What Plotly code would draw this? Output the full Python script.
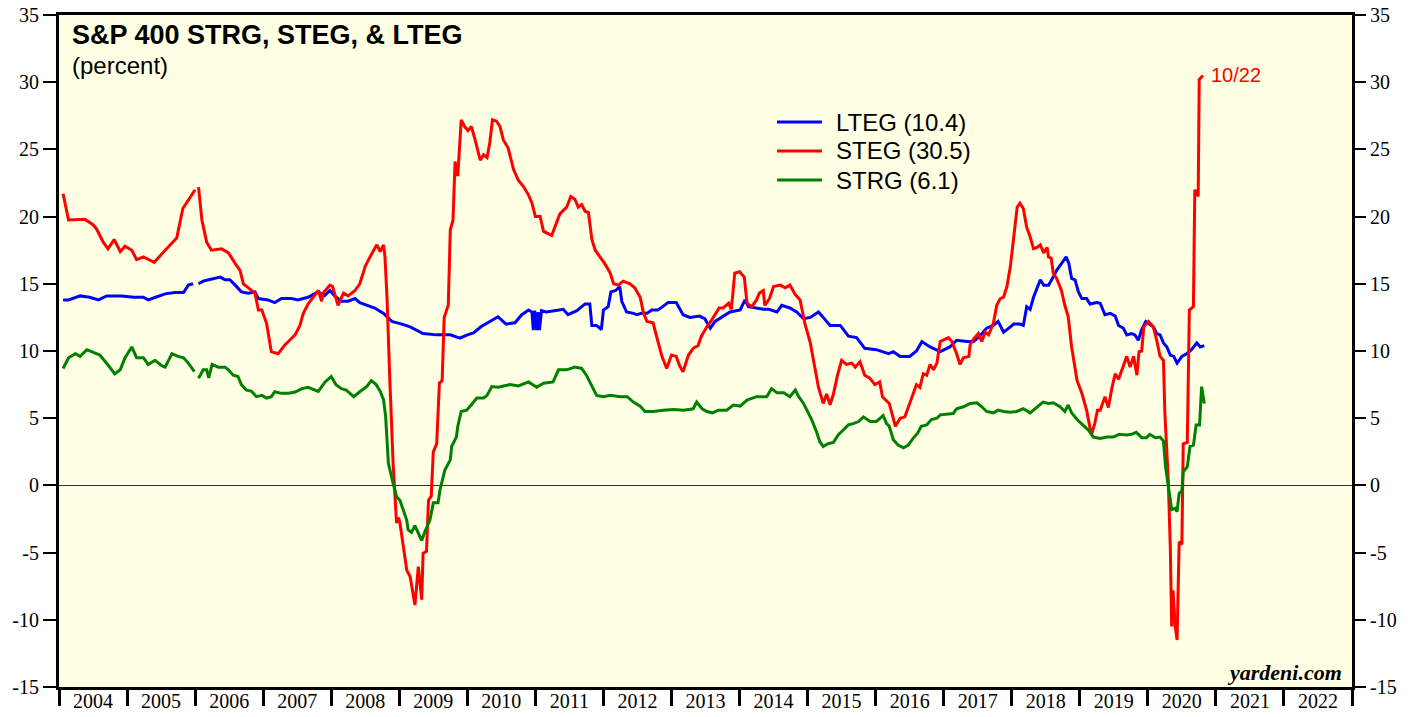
import plotly.graph_objects as go

# ---------------- data (decimal years) ----------------
steg_x = [2004.06, 2004.14, 2004.38, 2004.50, 2004.55, 2004.65, 2004.72, 2004.81, 2004.90, 2004.97,
          2005.07, 2005.14, 2005.24, 2005.40, 2005.56, 2005.73, 2005.82, 2006.00, 2006.02,
          2006.05, 2006.10, 2006.17, 2006.24, 2006.39, 2006.49, 2006.59, 2006.66, 2006.71, 2006.80,
          2006.88, 2006.93, 2006.98, 2007.05, 2007.12, 2007.22, 2007.32, 2007.39, 2007.47, 2007.54,
          2007.59, 2007.66, 2007.74, 2007.81, 2007.86, 2007.88, 2007.98, 2008.02, 2008.10, 2008.18,
          2008.25, 2008.35, 2008.42, 2008.50, 2008.57, 2008.62, 2008.67, 2008.72, 2008.77, 2008.79,
          2008.82, 2008.86, 2008.91, 2008.96, 2008.99, 2009.01, 2009.06, 2009.11, 2009.16, 2009.23,
          2009.28, 2009.33, 2009.35, 2009.40, 2009.43, 2009.47, 2009.50, 2009.55, 2009.59, 2009.63,
          2009.66, 2009.72, 2009.75, 2009.79, 2009.82, 2009.86, 2009.91, 2009.96, 2010.01, 2010.06,
          2010.11, 2010.19, 2010.24, 2010.29, 2010.33, 2010.37, 2010.43, 2010.48, 2010.53, 2010.60,
          2010.68, 2010.75, 2010.83, 2010.90, 2010.95, 2011.00, 2011.07, 2011.12, 2011.24, 2011.31,
          2011.36, 2011.46, 2011.52, 2011.58, 2011.63, 2011.68, 2011.73, 2011.78, 2011.83, 2011.88,
          2011.95, 2012.02, 2012.10, 2012.15, 2012.22, 2012.29, 2012.39, 2012.46, 2012.54, 2012.59,
          2012.64, 2012.73, 2012.78, 2012.86, 2012.93, 2013.00, 2013.07, 2013.12, 2013.17, 2013.25,
          2013.32, 2013.39, 2013.44, 2013.52, 2013.59, 2013.66, 2013.70, 2013.76, 2013.84, 2013.88,
          2013.93, 2014.00, 2014.07, 2014.11, 2014.18, 2014.25, 2014.29, 2014.35, 2014.37, 2014.44,
          2014.50, 2014.60, 2014.67, 2014.74, 2014.82, 2014.89, 2014.96, 2015.04, 2015.11, 2015.16,
          2015.23, 2015.28, 2015.33, 2015.38, 2015.44, 2015.50, 2015.57, 2015.65, 2015.70, 2015.77,
          2015.84, 2015.91, 2015.99, 2016.06, 2016.10, 2016.17, 2016.20, 2016.29, 2016.36, 2016.43,
          2016.50, 2016.55, 2016.60, 2016.65, 2016.70, 2016.75, 2016.80, 2016.85, 2016.90, 2016.95,
          2017.02, 2017.07, 2017.12, 2017.19, 2017.24, 2017.29, 2017.37, 2017.39, 2017.44, 2017.51,
          2017.56, 2017.61, 2017.66, 2017.73, 2017.78, 2017.83, 2017.88, 2017.93, 2017.98, 2018.03,
          2018.08, 2018.12, 2018.17, 2018.22, 2018.27, 2018.32, 2018.37, 2018.42, 2018.47, 2018.52,
          2018.54, 2018.58, 2018.61, 2018.66, 2018.73, 2018.78, 2018.83, 2018.88, 2018.96, 2019.03,
          2019.10, 2019.17, 2019.22, 2019.26, 2019.30, 2019.37, 2019.42, 2019.47, 2019.52, 2019.57,
          2019.62, 2019.69, 2019.74, 2019.79, 2019.84, 2019.87, 2019.91, 2019.94, 2020.01, 2020.08,
          2020.13, 2020.18, 2020.23, 2020.25, 2020.30, 2020.33, 2020.35, 2020.37, 2020.40, 2020.43,
          2020.46, 2020.50, 2020.52, 2020.58, 2020.61, 2020.67, 2020.69, 2020.74, 2020.755, 2020.81]
steg_y = [21.7, 19.75, 19.8, 19.4, 19.1, 18.1, 17.6, 18.3, 17.4, 17.8,
          17.5, 16.8, 17.0, 16.6, 17.5, 18.4, 20.6, 22.0, None,
          22.2, 19.75, 18.1, 17.5, 17.6, 17.3, 16.5, 16.0, 15.0, 14.6,
          14.3, 13.05, 13.05, 12.06, 9.95, 9.8, 10.45, 10.8, 11.2, 11.9,
          12.8, 13.5, 14.0, 14.5, 13.7, 14.3, 14.9, 14.8, 13.4, 14.3,
          14.1, 14.5, 15.0, 16.3, 17.0, 17.5, 17.9, 17.4, 17.9, 17.0,
          14.0, 8.0, 1.6, -2.8, -2.4, -2.8, -4.6, -6.3, -6.8, -8.9,
          -6.05, -8.5, -5.05, -4.9, -1.1, -0.8, 2.5, 3.1, 7.6, 7.8,
          12.5, 13.4, 19.0, 19.75, 24.1, 23.0, 27.2, 26.7, 26.4, 26.7,
          25.8, 24.2, 24.6, 24.4, 25.5, 27.2, 27.1, 26.7, 25.7, 25.1,
          23.5, 22.7, 22.2, 21.6, 21.0, 20.0, 20.0, 18.9, 18.6, 19.5,
          20.2, 20.7, 21.5, 21.3, 20.7, 20.9, 20.4, 20.3, 18.3, 17.5,
          17.0, 16.5, 15.8, 15.0, 14.9, 15.2, 15.0, 14.7, 14.0, 12.8,
          12.2, 12.1, 11.1, 9.6, 8.7, 9.7, 9.6, 8.9, 8.46, 9.7,
          10.2, 10.4, 11.1, 11.8, 12.3, 12.9, 13.2, 13.2, 13.55, 13.1,
          15.8, 15.9, 15.5, 13.55, 13.3, 13.8, 14.3, 14.5, 13.4, 13.9,
          14.8, 14.9, 14.7, 14.9, 14.2, 13.8, 12.06, 10.6, 8.8, 7.3,
          6.1, 6.8, 6.0, 6.8, 8.2, 9.3, 9.0, 9.1, 8.8, 9.2,
          8.2, 8.0, 7.5, 7.7, 6.6, 6.2, 6.1, 4.4, 5.0, 5.1,
          6.1, 6.7, 7.5, 7.3, 8.3, 8.2, 9.0, 8.6, 9.1, 10.7,
          10.9, 11.0, 10.7, 9.8, 9.0, 9.5, 9.6, 10.5, 10.9, 11.3,
          10.7, 11.4, 11.2, 12.06, 13.4, 13.9, 14.0, 14.8, 16.3, 18.3,
          20.7, 21.0, 20.6, 19.2, 18.5, 17.6, 17.7, 17.9, 17.3, 17.7,
          17.0, 16.9, 15.8, 15.4, 14.5, 13.4, 12.55, 10.3, 7.8, 6.85,
          5.6, 3.75, 4.6, 5.6, 5.6, 6.6, 5.8, 7.2, 8.3, 7.9,
          8.6, 9.6, 8.8, 9.6, 8.2, 9.95, 10.0, 11.8, 12.2, 11.8,
          10.8, 9.6, 9.3, 5.4, 0.4, -4.6, -10.5, -7.8, -10.4, -11.5,
          -4.2, -4.4, 3.1, 3.2, 13.05, 13.3, 22.0, 21.5, 30.2, 30.5]

lteg_x = [2004.06, 2004.14, 2004.31, 2004.45, 2004.58, 2004.70, 2004.92, 2005.10, 2005.24, 2005.31,
          2005.42, 2005.56, 2005.70, 2005.83, 2005.90, 2005.97, 2006.01,
          2006.05, 2006.12, 2006.20, 2006.29, 2006.37, 2006.44, 2006.51, 2006.59, 2006.68, 2006.78,
          2006.88, 2006.93, 2007.07, 2007.17, 2007.27, 2007.42, 2007.51, 2007.66, 2007.81, 2007.90,
          2007.98, 2008.05, 2008.15, 2008.25, 2008.35, 2008.42, 2008.52, 2008.64, 2008.77, 2008.89,
          2009.04, 2009.16, 2009.35, 2009.55, 2009.75, 2009.89, 2010.00, 2010.09, 2010.20, 2010.33,
          2010.45, 2010.57, 2010.70, 2010.80, 2010.90, 2010.95, 2010.97, 2010.99, 2011.02, 2011.04,
          2011.06, 2011.09, 2011.16, 2011.28, 2011.41, 2011.48, 2011.61, 2011.73, 2011.80, 2011.83,
          2011.90, 2011.97, 2012.00, 2012.07, 2012.11, 2012.18, 2012.24, 2012.27, 2012.34, 2012.44,
          2012.49, 2012.56, 2012.64, 2012.71, 2012.80, 2012.87, 2012.95, 2013.07, 2013.17, 2013.27,
          2013.41, 2013.49, 2013.57, 2013.64, 2013.76, 2013.86, 2014.01, 2014.08, 2014.13, 2014.25,
          2014.35, 2014.43, 2014.55, 2014.62, 2014.74, 2014.84, 2014.94, 2015.04, 2015.16, 2015.23,
          2015.33, 2015.48, 2015.60, 2015.72, 2015.84, 2016.01, 2016.19, 2016.26, 2016.36, 2016.50,
          2016.60, 2016.68, 2016.80, 2016.95, 2017.09, 2017.19, 2017.34, 2017.44, 2017.53, 2017.63,
          2017.73, 2017.80, 2017.88, 2017.98, 2018.03, 2018.12, 2018.17, 2018.22, 2018.27, 2018.32,
          2018.37, 2018.42, 2018.47, 2018.54, 2018.61, 2018.66, 2018.73, 2018.80, 2018.84, 2018.88,
          2018.93, 2018.98, 2019.03, 2019.10, 2019.15, 2019.25, 2019.30, 2019.37, 2019.45, 2019.52,
          2019.57, 2019.64, 2019.69, 2019.76, 2019.81, 2019.86, 2019.91, 2019.97, 2020.08, 2020.13,
          2020.18, 2020.23, 2020.28, 2020.33, 2020.38, 2020.43, 2020.50, 2020.57, 2020.64, 2020.72,
          2020.77, 2020.83]
lteg_y = [13.8, 13.8, 14.1, 14.0, 13.8, 14.1, 14.1, 14.0, 14.0, 13.8,
          14.0, 14.25, 14.35, 14.35, 14.9, 15.0, None,
          15.0, 15.2, 15.3, 15.4, 15.5, 15.3, 15.3, 14.9, 14.4, 14.3,
          14.4, 13.9, 13.8, 13.6, 13.9, 13.9, 13.8, 14.0, 14.4, 14.1,
          14.5, 14.1, 13.7, 13.7, 13.9, 13.6, 13.4, 13.2, 12.8, 12.2,
          12.0, 11.8, 11.3, 11.2, 11.2, 10.95, 11.2, 11.35, 11.8, 12.2,
          12.55, 12.0, 12.1, 12.7, 13.05, 12.9, 11.56, 13.0, 11.56, 12.9,
          11.56, 13.0, 12.9, 13.0, 13.1, 12.7, 13.0, 13.5, 13.5, 11.9,
          11.9, 11.6, 13.05, 13.3, 14.4, 14.5, 14.8, 13.7, 12.9, 12.8,
          12.7, 12.8, 12.8, 13.05, 13.05, 13.3, 13.6, 13.6, 12.7, 12.5,
          12.6, 12.4, 11.7, 12.2, 12.55, 12.9, 13.05, 13.8, 13.3, 13.2,
          13.1, 13.1, 12.9, 13.4, 13.2, 12.9, 12.4, 12.5, 12.9, 12.5,
          11.9, 11.9, 11.1, 11.0, 10.2, 10.1, 9.8, 9.95, 9.6, 9.6,
          10.0, 10.7, 10.3, 9.95, 10.3, 10.8, 10.7, 10.7, 11.1, 11.7,
          11.9, 12.2, 11.4, 11.8, 12.0, 12.0, 11.9, 13.3, 13.1, 14.0,
          14.7, 15.3, 14.9, 14.9, 15.5, 16.0, 16.5, 17.0, 16.5, 15.4,
          15.3, 14.4, 13.9, 13.9, 13.5, 13.6, 13.55, 12.7, 12.8, 12.6,
          11.9, 11.7, 11.2, 11.3, 11.2, 10.8, 11.6, 12.2, 11.8, 11.3,
          11.2, 10.6, 10.3, 9.7, 9.6, 9.1, 9.6, 9.8, 10.1, 10.6,
          10.3, 10.4]

strg_x = [2004.06, 2004.14, 2004.24, 2004.31, 2004.41, 2004.53, 2004.60, 2004.72, 2004.82, 2004.90,
          2004.97, 2005.07, 2005.14, 2005.24, 2005.31, 2005.41, 2005.51, 2005.56, 2005.66, 2005.75,
          2005.83, 2005.90, 2005.99, 2006.02,
          2006.05, 2006.12, 2006.17, 2006.20, 2006.25, 2006.34, 2006.44, 2006.49, 2006.56, 2006.63,
          2006.68, 2006.75, 2006.83, 2006.90, 2006.98, 2007.05, 2007.12, 2007.17, 2007.27, 2007.37,
          2007.47, 2007.57, 2007.66, 2007.81, 2007.91, 2008.00, 2008.07, 2008.15, 2008.22, 2008.33,
          2008.42, 2008.52, 2008.59, 2008.66, 2008.72, 2008.77, 2008.80, 2008.84, 2008.91, 2008.96,
          2009.01, 2009.06, 2009.11, 2009.13, 2009.18, 2009.23, 2009.28, 2009.33, 2009.38, 2009.45,
          2009.50, 2009.57, 2009.60, 2009.67, 2009.75, 2009.77, 2009.84, 2009.86, 2009.91, 2009.99,
          2010.06, 2010.14, 2010.24, 2010.29, 2010.36, 2010.45, 2010.63, 2010.75, 2010.90, 2011.02,
          2011.12, 2011.26, 2011.34, 2011.46, 2011.58, 2011.68, 2011.75, 2011.83, 2011.90, 2012.00,
          2012.10, 2012.25, 2012.35, 2012.44, 2012.54, 2012.61, 2012.73, 2012.88, 2013.03, 2013.18,
          2013.32, 2013.37, 2013.45, 2013.52, 2013.60, 2013.69, 2013.81, 2013.91, 2014.01, 2014.11,
          2014.25, 2014.40, 2014.47, 2014.55, 2014.65, 2014.74, 2014.82, 2014.87, 2014.94, 2015.01,
          2015.06, 2015.13, 2015.18, 2015.23, 2015.30, 2015.38, 2015.45, 2015.52, 2015.60, 2015.67,
          2015.75, 2015.82, 2015.92, 2016.01, 2016.11, 2016.16, 2016.20, 2016.26, 2016.33, 2016.41,
          2016.48, 2016.55, 2016.62, 2016.67, 2016.75, 2016.82, 2016.90, 2016.95, 2017.05, 2017.14,
          2017.19, 2017.29, 2017.39, 2017.49, 2017.56, 2017.63, 2017.73, 2017.80, 2017.88, 2017.98,
          2018.07, 2018.17, 2018.27, 2018.37, 2018.46, 2018.54, 2018.61, 2018.71, 2018.78, 2018.83,
          2018.88, 2018.96, 2019.05, 2019.13, 2019.20, 2019.30, 2019.40, 2019.49, 2019.58, 2019.69,
          2019.76, 2019.83, 2019.91, 2019.98, 2020.03, 2020.11, 2020.18, 2020.23, 2020.26, 2020.33,
          2020.35, 2020.40, 2020.43, 2020.46, 2020.50, 2020.52, 2020.58, 2020.62, 2020.67, 2020.71,
          2020.76, 2020.79, 2020.83]
strg_y = [8.7, 9.5, 9.8, 9.6, 10.1, 9.85, 9.7, 8.96, 8.3, 8.6,
          9.5, 10.3, 9.5, 9.5, 9.0, 9.3, 8.9, 8.8, 9.8, 9.6,
          9.5, 9.1, 8.46, None,
          7.97, 8.6, 8.6, 8.0, 9.0, 8.8, 8.8, 8.6, 8.2, 8.1,
          7.5, 7.1, 7.0, 6.6, 6.7, 6.5, 6.6, 6.97, 6.85, 6.85,
          6.95, 7.2, 7.3, 7.0, 7.7, 8.1, 7.5, 7.2, 7.1, 6.6,
          6.97, 7.35, 7.8, 7.5, 7.0, 6.35, 5.1, 1.64, 0.15, -0.84,
          -1.1, -1.8, -2.6, -3.3, -3.5, -3.0, -3.5, -4.1, -3.4, -2.6,
          -1.3, -1.3, -0.3, 1.15, 1.9, 2.9, 3.6, 4.4, 5.5, 5.6,
          6.0, 6.5, 6.5, 6.7, 7.35, 7.3, 7.5, 7.4, 7.7, 7.3,
          7.6, 7.7, 8.6, 8.6, 8.8, 8.7, 8.2, 7.35, 6.7, 6.6,
          6.7, 6.6, 6.6, 6.2, 5.9, 5.5, 5.5, 5.6, 5.65, 5.6,
          5.7, 6.2, 5.7, 5.5, 5.4, 5.6, 5.6, 5.98, 5.9, 6.35,
          6.6, 6.6, 7.2, 6.9, 6.9, 6.6, 7.1, 6.6, 6.1, 5.4,
          4.9, 4.0, 3.25, 2.9, 3.1, 3.2, 3.75, 4.1, 4.5, 4.6,
          4.75, 5.1, 4.75, 4.75, 5.2, 4.6, 4.4, 3.4, 3.0, 2.8,
          3.0, 3.5, 3.9, 4.4, 4.5, 4.9, 5.0, 5.25, 5.3, 5.35,
          5.7, 5.85, 6.1, 6.15, 5.85, 5.5, 5.4, 5.6, 5.5, 5.45,
          5.5, 5.7, 5.4, 5.85, 6.2, 6.1, 6.15, 5.85, 5.5, 5.98,
          5.4, 4.9, 4.5, 4.1, 3.6, 3.5, 3.6, 3.6, 3.8, 3.75,
          3.8, 3.95, 3.55, 3.55, 3.8, 3.55, 3.6, 3.3, 1.4, -1.1,
          -1.8, -1.7, -1.95, -0.6, -0.4, 1.0, 1.4, 2.9, 3.0, 4.5,
          4.5, 7.35, 6.1]

years = list(range(2004, 2024))
year_labels = [str(y) for y in range(2004, 2023)]
y_ticks = list(range(-15, 40, 5))
y_tick_text = [str(v) for v in y_ticks]

LTEG_LAST, STEG_LAST, STRG_LAST = 10.4, 30.5, 6.1
last_label = "10/22"

series = [
    ("LTEG", LTEG_LAST, lteg_x, lteg_y, "#0000FF"),
    ("STEG", STEG_LAST, steg_x, steg_y, "#FF0000"),
    ("STRG", STRG_LAST, strg_x, strg_y, "#008000"),
]

# ---------------- figure ----------------
W, H = 1419, 717
ML, MR, MT, MB = 59, 67, 15, 30
PW, PH = W - ML - MR, H - MT - MB


def px_x(px):  # page pixel -> paper x
    return (px - ML) / PW


def px_y(py):  # page pixel -> paper y
    return 1 - (py - MT) / PH


fig = go.Figure()
for name, last, xs, ys, color in series:
    fig.add_trace(go.Scatter(x=xs, y=ys, mode="lines", name=f"{name} ({last})",
                             line=dict(color=color, width=3), connectgaps=False, showlegend=False))
# helper (empty) trace to activate the overlay axes
fig.add_trace(go.Scatter(x=[], y=[], xaxis="x2", yaxis="y2", showlegend=False, hoverinfo="skip"))

tick_font = dict(family="Liberation Serif, Times New Roman, serif", size=20, color="black")
sans = "Liberation Sans, Arial, sans-serif"

fig.update_layout(
    width=W, height=H,
    margin=dict(l=ML, r=MR, t=MT, b=MB, autoexpand=False),
    paper_bgcolor="white",
    plot_bgcolor="#FFFFE3",
    showlegend=False,
    xaxis=dict(range=[2004, 2023], tickmode="array", tickvals=years, showticklabels=False,
               ticks="outside", ticklen=16, tickwidth=3, tickcolor="black",
               showline=True, linewidth=3, linecolor="black", mirror=True, automargin=False,
               showgrid=False, zeroline=False, fixedrange=True),
    xaxis2=dict(range=[2004, 2023], overlaying="x", anchor="y", side="bottom", automargin=False,
                tickmode="array", tickvals=[y + 0.5 for y in range(2004, 2023)], ticktext=year_labels,
                ticks="", tickfont=tick_font, showline=False, showgrid=False, zeroline=False),
    yaxis=dict(range=[-15, 35], tickmode="array", tickvals=y_ticks, ticktext=y_tick_text,
               ticks="outside", ticklen=13, tickwidth=1.5, tickcolor="black", automargin=False,
               tickfont=tick_font, showline=True, linewidth=3, linecolor="black", mirror=True,
               showgrid=False, zeroline=True, zerolinecolor="#333333", zerolinewidth=1),
    yaxis2=dict(range=[-15, 35], overlaying="y", side="right", anchor="x", tickmode="array",
                tickvals=y_ticks, ticktext=y_tick_text, automargin=False,
                ticks="outside", ticklen=13, tickwidth=1.5, tickcolor="black",
                tickfont=tick_font, showline=False, showgrid=False, zeroline=False),
)

# manual legend (line sample + label)
legend_rows_px = [122, 151, 180]
for (name, last, _, _, color), row in zip(series, legend_rows_px):
    fig.add_shape(type="line", xref="paper", yref="paper",
                  x0=px_x(777), x1=px_x(822), y0=px_y(row), y1=px_y(row),
                  line=dict(color=color, width=3))
    fig.add_annotation(xref="paper", yref="paper", x=px_x(834), y=px_y(row),
                       xanchor="left", yanchor="middle", text=f"{name} ({last})", showarrow=False,
                       font=dict(family=sans, size=24, color="black"))

fig.add_annotation(xref="paper", yref="paper", x=px_x(70), y=px_y(18), xanchor="left", yanchor="top",
                   text="<b>S&P 400 STRG, STEG, & LTEG</b>", showarrow=False,
                   font=dict(family=sans, size=27, color="black"))
fig.add_annotation(xref="paper", yref="paper", x=px_x(70), y=px_y(50), xanchor="left", yanchor="top",
                   text="(percent)", showarrow=False,
                   font=dict(family=sans, size=24, color="black"))
fig.add_annotation(xref="x", yref="y", x=steg_x[-1], y=steg_y[-1], xanchor="left", yanchor="middle",
                   xshift=6, text=last_label, showarrow=False,
                   font=dict(family=sans, size=20, color="#FF0000"))
fig.add_annotation(xref="paper", yref="paper", x=px_x(1344), y=px_y(672), xanchor="right", yanchor="middle",
                   text="<b><i>yardeni.com</i></b>", showarrow=False,
                   font=dict(family="Liberation Serif, Times New Roman, serif", size=22, color="black"))

fig.write_html("out.html", config={"displayModeBar": False},
               post_script="document.body.style.margin='0';document.body.style.overflow='hidden';")
